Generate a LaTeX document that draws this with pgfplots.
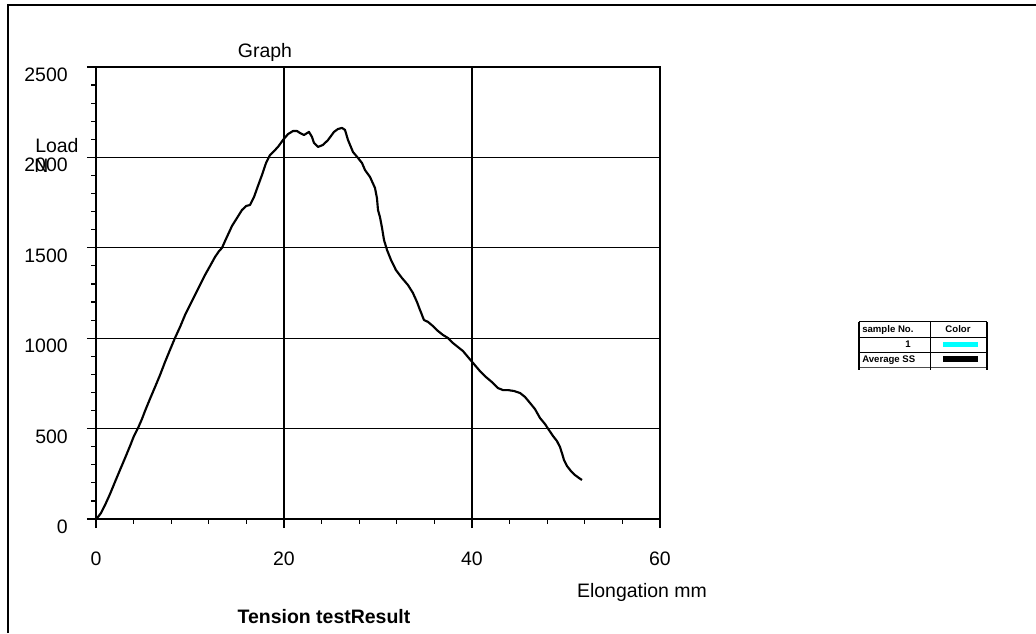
\documentclass[border=0pt]{standalone}
\usepackage{pgfplots}
\pgfplotsset{compat=1.18}
\usepackage{fontspec}
\setmainfont{Liberation Sans}
\definecolor{aqua}{RGB}{0,255,255}
\newcommand\bigf{\fontsize{14.6pt}{17pt}\selectfont}
\newcommand\smallf{\fontsize{7.2pt}{8.5pt}\selectfont\bfseries}
\begin{document}
\begin{tikzpicture}
\begin{scope}[x=0.75pt,y=0.75pt]
\useasboundingbox (0,0) rectangle (1036,633);
\draw[line width=2.2pt] (8,0) -- (8,628) -- (1036,628);
% titles and labels
\node[anchor=base,font=\bigf] at (265,575) {Graph};
\node[anchor=base west,font=\bigf,inner sep=0pt] at (35,480) {Load};
\node[anchor=base west,font=\bigf,inner sep=0pt] at (34,460) {N};
\node[anchor=base,font=\bigf,inner sep=0pt] at (642,36) {Elongation mm};
\node[anchor=base,font=\bigf\bfseries,inner sep=0pt] at (324,10) {Tension testResult};
% legend table
\draw[line width=0.8pt] (859,311.3) -- (987,311.3);
\draw[line width=0.6pt] (859,295.7) -- (987,295.7);
\draw[line width=0.6pt] (859,280.7) -- (987,280.7);
\draw[line width=0.5pt,black!70] (859,265.7) -- (987,265.7);
\draw[line width=1pt] (859,311.3) -- (859,263);
\draw[line width=1pt] (930.7,311.3) -- (930.7,263);
\draw[line width=1pt] (987,311.3) -- (987,263);
\node[anchor=base west,font=\smallf,inner sep=0pt] at (862,300.5) {sample No.};
\node[anchor=base,font=\smallf,inner sep=0pt] at (958,300.5) {Color};
\node[anchor=base east,font=\smallf,inner sep=0pt] at (911,285.5) {1};
\node[anchor=base west,font=\smallf,inner sep=0pt] at (862,270.5) {Average SS};
\fill[aqua] (943,285.7) rectangle (978,291.3);
\fill[black] (943,271.3) rectangle (978,277.3);
\end{scope}
\begin{axis}[
  at={(72pt,85.5pt)}, anchor=south west,
  scale only axis, width=423pt, height=339pt,
  xmin=0, xmax=60, ymin=0, ymax=2500,
  xtick={0,20,40,60}, ytick={0,500,1000,1500,2000,2500},
  minor x tick num=4, minor y tick num=4,
  xtick pos=bottom, ytick pos=left,
  tick align=outside,
  major tick length=6.75pt, minor tick length=3.4pt,
  xmajorgrids, ymajorgrids,
  grid style={black, line width=0.9pt},
  axis line style={line width=0.9pt},
  every tick/.style={black, line width=0.9pt},
  /pgf/number format/assume math mode=true,
  /pgf/number format/1000 sep={},
  ticklabel style={font=\bigf},
  yticklabel style={anchor=east, inner sep=0pt, xshift=-14.25pt, yshift=-5.8pt},
  xticklabel style={anchor=north, inner sep=0pt, yshift=-17.75pt},
  clip=false,
]
\addplot[black, line width=1.6pt, line join=round] coordinates {
(0,0) (0.21,11) (0.53,33) (0.96,77) (1.49,138) (2.02,205) (2.55,271) (3.09,337)
(3.62,404) (4.04,459) (4.47,503) (4.89,553) (5.21,597) (5.74,664) (6.28,730)
(6.81,796) (7.34,868) (7.87,935) (8.40,1001) (8.94,1062) (9.47,1128) (10.0,1184)
(10.53,1239) (11.06,1294) (11.6,1350) (12.13,1399) (12.66,1449) (13.09,1482)
(13.4,1499) (13.83,1549) (14.47,1621) (15.0,1665) (15.53,1709) (15.96,1731)
(16.38,1737) (16.81,1781) (17.23,1842) (17.66,1903) (18.09,1969) (18.51,2013)
(18.94,2035) (19.36,2058) (19.89,2096) (20.43,2129) (20.96,2146) (21.38,2146)
(21.7,2135) (22.13,2124) (22.66,2141) (22.98,2113) (23.19,2080) (23.62,2058)
(24.15,2069) (24.68,2096) (25.32,2141) (25.74,2157) (26.17,2163) (26.49,2152)
(26.81,2096) (27.34,2030) (27.87,1997) (28.3,1969) (28.62,1930) (29.15,1892)
(29.68,1831) (29.89,1775) (30.0,1709) (30.21,1670) (30.43,1610) (30.64,1543)
(30.96,1488) (31.38,1433) (31.91,1377) (32.55,1333) (33.19,1294) (33.72,1250)
(34.15,1200) (34.47,1156) (34.89,1101) (35.32,1090) (35.85,1067) (36.38,1040)
(36.91,1018) (37.45,1001) (37.98,973) (38.51,951) (39.04,929) (39.57,896)
(40.21,857) (40.85,818) (41.49,785) (42.13,757) (42.77,724) (43.3,713)
(43.83,713) (44.47,708) (45.11,697) (45.64,675) (46.17,642) (46.7,608)
(47.23,559) (47.77,525) (48.19,492) (48.62,459) (49.04,431) (49.36,398)
(49.57,365) (49.79,326) (50.11,293) (50.53,265) (50.96,243) (51.38,227)
(51.7,216)
};
\end{axis}
\end{tikzpicture}
\end{document}
